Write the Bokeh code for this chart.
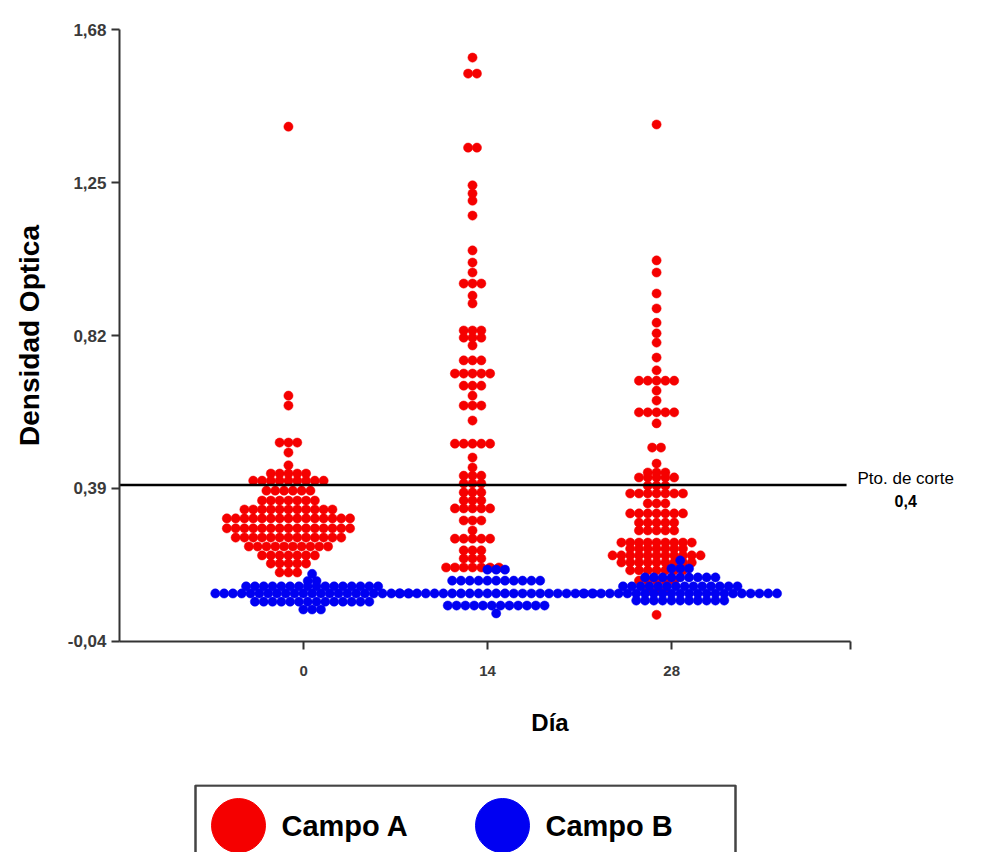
import numpy as np
from bokeh.plotting import figure
from bokeh.models import FixedTicker, Label
from bokeh.layouts import column
from bokeh.embed import file_html
from bokeh.resources import INLINE
from bokeh.core.properties import value

FONT = "Liberation Sans"

# ---------------- data ----------------
days = [0, 14, 28]
day_labels = ["0", "14", "28"]
y_ticks = [-0.04, 0.39, 0.82, 1.25, 1.68]
y_tick_labels = ["-0,04", "0,39", "0,82", "1,25", "1,68"]
cutoff_value = 0.4
cutoff_text = ["Pto. de corte", "0,4"]
series_names = ["Campo A", "Campo B"]
series_colors = ["#f50000", "#0000f2"]

# Campo A (red): optical density levels and number of dots on each level
campo_a_d0_levels = [1.407, 0.651, 0.623, 0.519, 0.491, 0.455, 0.432, 0.412, 0.384, 0.356,
                     0.331, 0.306, 0.278, 0.252, 0.227, 0.202, 0.179, 0.154]
campo_a_d0_counts = [1, 1, 1, 3, 1, 1, 5, 9, 6, 7, 11, 15, 15, 13, 10, 7, 5, 3]

campo_a_d14_levels = [1.601, 1.556, 1.348, 1.242, 1.219, 1.199, 1.157, 1.059, 1.025, 0.997,
                      0.966, 0.932, 0.910, 0.834, 0.814, 0.792, 0.750, 0.713, 0.679, 0.651,
                      0.623, 0.581, 0.516, 0.477, 0.449, 0.426, 0.404, 0.379, 0.356, 0.334,
                      0.300, 0.272, 0.249, 0.216, 0.193, 0.168]
campo_a_d14_counts = [1, 2, 2, 1, 1, 1, 1, 1, 1, 1,
                      3, 1, 1, 3, 3, 1, 3, 5, 3, 1,
                      3, 1, 5, 1, 1, 3, 3, 3, 3, 5,
                      3, 1, 5, 3, 3, 7]

campo_a_d28_levels = [1.413, 1.031, 0.997, 0.938, 0.896, 0.856, 0.826, 0.800, 0.758, 0.722,
                      0.693, 0.665, 0.637, 0.604, 0.573, 0.505, 0.460, 0.435, 0.421, 0.398,
                      0.376, 0.348, 0.320, 0.294, 0.272, 0.238, 0.221, 0.202, 0.182, 0.160,
                      0.131, 0.103, 0.035]
campo_a_d28_counts = [1, 1, 1, 1, 1, 1, 1, 1, 1, 1,
                      5, 1, 1, 5, 1, 2, 1, 3, 5, 3,
                      7, 3, 7, 5, 5, 9, 7, 11, 9, 7,
                      5, 3, 1]

# Campo B (blue)
campo_b_d0_levels = [0.150, 0.130, 0.115, 0.095, 0.072, 0.050]
campo_b_d0_counts = [1, 2, 16, 23, 14, 3]
campo_b_d14_levels = [0.162, 0.131, 0.095, 0.061, 0.039]
campo_b_d14_counts = [3, 11, 23, 12, 1]
campo_b_d28_levels = [0.188, 0.165, 0.140, 0.115, 0.095, 0.075]
campo_b_d28_counts = [1, 3, 9, 14, 23, 11]

campo_a = [(campo_a_d0_levels, campo_a_d0_counts),
           (campo_a_d14_levels, campo_a_d14_counts),
           (campo_a_d28_levels, campo_a_d28_counts)]
campo_b = [(campo_b_d0_levels, campo_b_d0_counts),
           (campo_b_d14_levels, campo_b_d14_counts),
           (campo_b_d28_levels, campo_b_d28_counts)]

# ---------------- layout ----------------
W = 980
H_MAIN, H_LEG = 770, 82
B_LEFT, B_TOP = 119, 29
FRAME_H = 612
AXIS_LEN = 731                       # length of the drawn x axis in px
X_MIN, X_MAX = -14.0, 41.6           # span covered by the x axis line
Y_MIN, Y_MAX = -0.04, 1.68
FRAME_W = W - B_LEFT
PX_PER_DAY = AXIS_LEN / (X_MAX - X_MIN)
X_END = X_MIN + FRAME_W / PX_PER_DAY  # frame continues right to hold the cut-off text
DOT = 9.2
STEP = 8.8 / PX_PER_DAY              # horizontal spacing between dots (data units)
OFFSETS = [-1.15, 0.65]              # dodge of Campo A / Campo B around each day


def swarm(day, offset, levels, counts):
    xs, ys = [], []
    for lv, n in zip(levels, counts):
        for i in range(n):
            xs.append(day + offset + (i - (n - 1) / 2) * STEP)
            ys.append(lv)
    return xs, ys


p = figure(width=W, height=H_MAIN,
           x_range=(X_MIN, X_END), y_range=(Y_MIN - 1e-6, Y_MAX + 1e-6),
           min_border_left=B_LEFT, min_border_top=B_TOP,
           min_border_right=0, min_border_bottom=H_MAIN - B_TOP - FRAME_H,
           output_backend="svg", toolbar_location=None)
p.background_fill_color = "white"
p.border_fill_color = "white"
p.outline_line_color = None
p.xgrid.visible = False
p.ygrid.visible = False

for s, groups in enumerate([campo_a, campo_b]):
    xs_all, ys_all = [], []
    for day, (lv, ct) in zip(days, groups):
        xs, ys = swarm(day, OFFSETS[s], lv, ct)
        xs_all += xs
        ys_all += ys
    p.scatter(xs_all, ys_all, size=DOT, marker="circle",
              fill_color=series_colors[s], line_color=series_colors[s], line_width=0.5)

# cut-off line, drawn across the x axis span
p.segment(x0=[X_MIN], y0=[cutoff_value], x1=[X_MAX - 0.3], y1=[cutoff_value],
          line_color="black", line_width=2.5)

p.add_layout(Label(x=45.8, y=0.418, text=cutoff_text[0], text_align="center",
                   text_baseline="middle", text_font=FONT, text_font_size="17px",
                   text_color="black"))
p.add_layout(Label(x=45.8, y=0.356, text=cutoff_text[1], text_align="center",
                   text_baseline="middle", text_font=FONT, text_font_size="16px",
                   text_font_style="bold", text_color="black"))

xa = p.xaxis[0]
ya = p.yaxis[0]
xa.bounds = (X_MIN, X_MAX)
xa.ticker = FixedTicker(ticks=days, minor_ticks=[X_MAX])
xa.major_label_overrides = {d: l for d, l in zip(days, day_labels)}
ya.ticker = FixedTicker(ticks=y_ticks)
ya.major_label_overrides = {t: l for t, l in zip(y_ticks, y_tick_labels)}
xa.axis_label = "Día"
ya.axis_label = "Densidad Optica"

for ax in (xa, ya):
    ax.axis_line_width = 2
    ax.axis_line_color = "#333333"
    ax.major_tick_line_width = 2
    ax.major_tick_line_color = "#333333"
    ax.major_tick_out = 8
    ax.major_tick_in = 0
    ax.major_label_text_font = FONT
    ax.major_label_text_font_style = "bold"
    ax.major_label_text_color = "#3a3a3a"
    ax.axis_label_text_font = FONT
    ax.axis_label_text_font_style = "bold"
    ax.axis_label_text_color = "black"

xa.major_label_text_font_size = "15px"
ya.major_label_text_font_size = "17px"
xa.axis_label_text_font_size = "24px"
ya.axis_label_text_font_size = "28px"

xa.minor_tick_out = 8
xa.minor_tick_in = 0
xa.minor_tick_line_width = 2
xa.minor_tick_line_color = "#333333"
ya.minor_tick_out = 0
ya.minor_tick_in = 0
xa.major_label_standoff = 16
xa.axis_label_standoff = 30
ya.major_label_standoff = 5
ya.axis_label_standoff = 20

# ---------------- legend (drawn as its own panel, same borders as the plot) ----------------
LEG_TOP = 14
LEG_FH = H_LEG - LEG_TOP
leg = figure(width=W, height=H_LEG, x_range=(0, FRAME_W), y_range=(0, LEG_FH),
             min_border_left=B_LEFT, min_border_top=LEG_TOP,
             min_border_right=0, min_border_bottom=0,
             x_axis_type=None, y_axis_type=None, output_backend="svg", toolbar_location=None)
leg.outline_line_color = None
leg.xgrid.visible = False
leg.ygrid.visible = False
BOX_L, BOX_R = 76, 616
leg.line(x=[BOX_L, BOX_L, BOX_R, BOX_R], y=[-10, LEG_FH - 1, LEG_FH - 1, -10],
         line_color="#444444", line_width=2.5)
item_x = [BOX_L + 43, BOX_L + 307]
ROW_Y = LEG_FH - 41
for i, name in enumerate(series_names):
    leg.scatter([item_x[i]], [ROW_Y], size=54, marker="circle",
                fill_color=series_colors[i], line_color=series_colors[i])
    leg.text([item_x[i] + 43], [ROW_Y], text=[name], text_baseline="middle", text_align="left",
             text_font=value(FONT), text_font_size="29px", text_font_style="bold",
             text_color="black")

layout = column(p, leg)
open("out.html", "w").write(file_html(layout, INLINE))
